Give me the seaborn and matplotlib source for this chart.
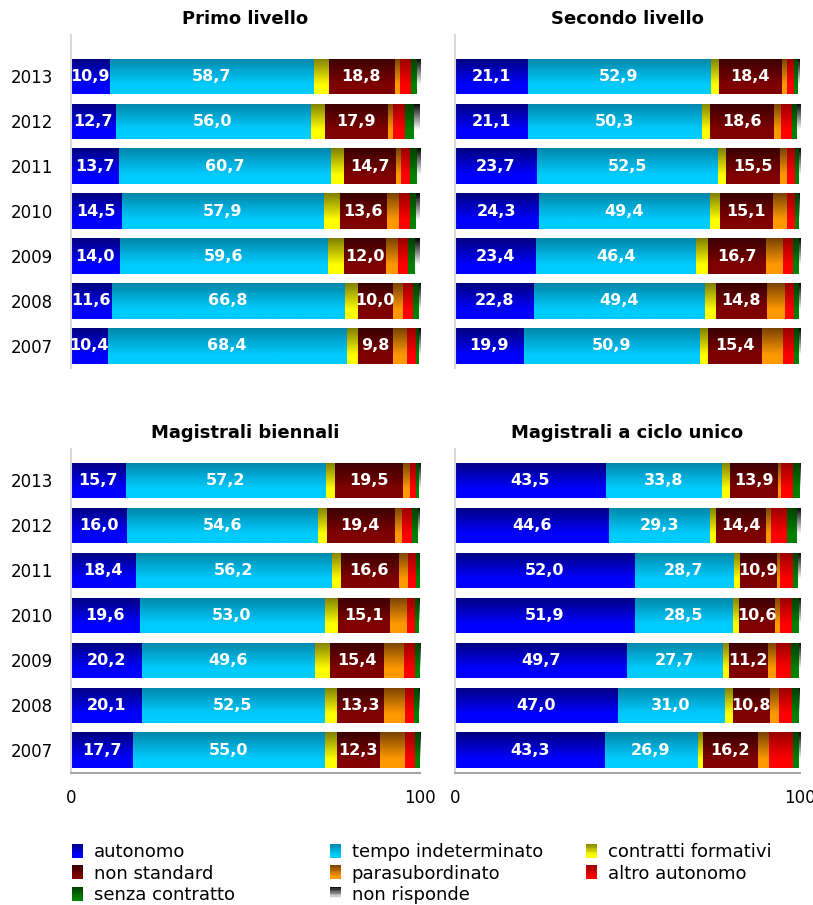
import numpy as np
import pandas as pd
import matplotlib
matplotlib.use("Agg")
import matplotlib.pyplot as plt
import seaborn as sns
from matplotlib.patches import Rectangle
from matplotlib.colors import to_rgb
from matplotlib.legend_handler import HandlerBase

# ---------------- data ----------------
years = ["2013", "2012", "2011", "2010", "2009", "2008", "2007"]
categories = ["autonomo", "tempo indeterminato", "contratti formativi", "non standard",
              "parasubordinato", "altro autonomo", "senza contratto", "non risponde"]
panel_titles = ["Primo livello", "Secondo livello",
                "Magistrali biennali", "Magistrali a ciclo unico"]
labelled = ["autonomo", "tempo indeterminato", "non standard"]

# Primo livello
p1_autonomo = [10.9, 12.7, 13.7, 14.5, 14.0, 11.6, 10.4]
p1_tempo = [58.7, 56.0, 60.7, 57.9, 59.6, 66.8, 68.4]
p1_formativi = [4.2, 4.0, 3.8, 4.5, 4.6, 3.7, 3.4]
p1_nonstandard = [18.8, 17.9, 14.7, 13.6, 12.0, 10.0, 9.8]
p1_parasub = [1.4, 1.6, 1.4, 3.3, 3.4, 2.9, 4.0]
p1_altro = [3.2, 3.5, 2.7, 3.1, 2.8, 2.9, 2.7]
p1_senza = [1.7, 2.3, 1.9, 1.8, 2.1, 1.6, 1.0]
p1_nonrisp = [1.1, 2.0, 1.1, 1.3, 1.5, 0.5, 0.3]

# Secondo livello
p2_autonomo = [21.1, 21.1, 23.7, 24.3, 23.4, 22.8, 19.9]
p2_tempo = [52.9, 50.3, 52.5, 49.4, 46.4, 49.4, 50.9]
p2_formativi = [2.3, 2.4, 2.3, 3.1, 3.5, 3.2, 2.5]
p2_nonstandard = [18.4, 18.6, 15.5, 15.1, 16.7, 14.8, 15.4]
p2_parasub = [1.3, 2.0, 2.0, 4.1, 4.9, 5.2, 6.3]
p2_altro = [2.2, 3.2, 2.4, 2.3, 2.9, 2.6, 3.2]
p2_senza = [1.1, 1.4, 1.1, 1.4, 1.7, 1.7, 1.5]
p2_nonrisp = [0.7, 1.0, 0.5, 0.3, 0.5, 0.3, 0.3]

# Magistrali biennali
p3_autonomo = [15.7, 16.0, 18.4, 19.6, 20.2, 20.1, 17.7]
p3_tempo = [57.2, 54.6, 56.2, 53.0, 49.6, 52.5, 55.0]
p3_formativi = [2.6, 2.6, 2.6, 3.7, 4.3, 3.6, 3.4]
p3_nonstandard = [19.5, 19.4, 16.6, 15.1, 15.4, 13.3, 12.3]
p3_parasub = [1.9, 2.2, 2.5, 4.6, 5.9, 6.0, 7.1]
p3_altro = [1.9, 2.8, 2.3, 2.3, 2.9, 2.7, 2.9]
p3_senza = [0.8, 1.6, 1.2, 1.4, 1.5, 1.5, 1.4]
p3_nonrisp = [0.4, 0.8, 0.2, 0.3, 0.2, 0.3, 0.2]

# Magistrali a ciclo unico
p4_autonomo = [43.5, 44.6, 52.0, 51.9, 49.7, 47.0, 43.3]
p4_tempo = [33.8, 29.3, 28.7, 28.5, 27.7, 31.0, 26.9]
p4_formativi = [2.3, 1.7, 1.7, 1.7, 2.0, 2.3, 1.4]
p4_nonstandard = [13.9, 14.4, 10.9, 10.6, 11.2, 10.8, 16.2]
p4_parasub = [0.9, 1.4, 0.9, 1.4, 2.3, 2.6, 3.2]
p4_altro = [3.5, 4.6, 3.5, 3.5, 4.3, 3.9, 6.7]
p4_senza = [1.9, 2.9, 1.7, 2.1, 2.4, 2.1, 2.0]
p4_nonrisp = [0.2, 1.1, 0.6, 0.3, 0.4, 0.3, 0.3]

panels = [
    [p1_autonomo, p1_tempo, p1_formativi, p1_nonstandard, p1_parasub, p1_altro, p1_senza, p1_nonrisp],
    [p2_autonomo, p2_tempo, p2_formativi, p2_nonstandard, p2_parasub, p2_altro, p2_senza, p2_nonrisp],
    [p3_autonomo, p3_tempo, p3_formativi, p3_nonstandard, p3_parasub, p3_altro, p3_senza, p3_nonrisp],
    [p4_autonomo, p4_tempo, p4_formativi, p4_nonstandard, p4_parasub, p4_altro, p4_senza, p4_nonrisp],
]

# gradient colours (top -> bottom)
grad_top = ["#000080", "#0086A8", "#808000", "#3A0000", "#7A4200", "#990000", "#003F00", "#000000"]
grad_bottom = ["#0000FF", "#00CCFF", "#FFFF00", "#800000", "#FF9900", "#FF0000", "#008000", "#FFFFFF"]

# ---------------- style ----------------
sns.set_style("white")
plt.rcParams["font.family"] = ["DejaVu Sans"]
plt.rcParams["text.color"] = "black"
plt.rcParams["xtick.labelcolor"] = "black"
plt.rcParams["ytick.labelcolor"] = "black"
plt.rcParams["axes.titlecolor"] = "black"


def gradient_array(top, bottom, n=64, frac=0.75):
    s = np.linspace(0, 1, n)
    t = np.clip(s / frac, 0, 1)
    a, b = np.array(to_rgb(top)), np.array(to_rgb(bottom))
    return (a[None, :] * (1 - t[:, None]) + b[None, :] * t[:, None])[:, None, :]


grads = [gradient_array(t, b) for t, b in zip(grad_top, grad_bottom)]

W, H = 813, 905
fig = plt.figure(figsize=(W / 100, H / 100), dpi=100)

ax_boxes = [
    (71, 35, 420, 368.3), (455, 35, 800, 368.3),
    (71, 449, 420, 772.7), (455, 449, 800, 772.7),
]
ylims = [(6.5, -0.92), (6.5, -0.92), (6.5, -0.70), (6.5, -0.70)]


def draw_panel(ax, values, title, show_x, show_y, ylim):
    df = pd.DataFrame(np.array(values).T, index=years, columns=categories)
    cum = df.cumsum(axis=1)
    layers = []
    for k in range(len(categories) - 1, -1, -1):
        n0 = len(ax.patches)
        d = pd.DataFrame({"year": years, "value": cum[categories[k]].values})
        sns.barplot(data=d, x="value", y="year", order=years, orient="h",
                    color=grad_bottom[k], saturation=1, width=0.79, linewidth=0,
                    errorbar=None, ax=ax)
        for p in ax.patches[n0:]:
            layers.append((p, k))
    for i, (p, k) in enumerate(layers):
        x0, y0, w, h = p.get_x(), p.get_y(), p.get_width(), p.get_height()
        im = ax.imshow(grads[k], extent=(x0, x0 + w, y0 + h, y0), aspect="auto",
                       interpolation="bilinear", zorder=2 + i * 0.001)
        im.set_clip_path(p)
    # value labels
    for k, cat in enumerate(categories):
        if cat not in labelled:
            continue
        prev = cum.iloc[:, k - 1].values if k > 0 else np.zeros(len(years))
        for j, v in enumerate(df[cat].values):
            ax.text(prev[j] + v / 2, j, f"{v:.1f}".replace(".", ","),
                    ha="center", va="center", color="white",
                    fontsize=11.5, fontweight="bold", zorder=10)
    ax.set_xlim(0, 100)
    ax.set_ylim(*ylim)
    ax.set_xlabel("")
    ax.set_ylabel("")
    ax.set_title(title, fontsize=13, fontweight="bold", pad=8, color="black")
    ax.tick_params(axis="y", length=0, pad=13, labelsize=12, labelcolor="black")
    if not show_y:
        ax.tick_params(axis="y", labelleft=False)
    for s in ["top", "right"]:
        ax.spines[s].set_visible(False)
    ax.spines["left"].set_color("#D9D9D9")
    ax.spines["left"].set_linewidth(1.5)
    if show_x:
        ax.spines["bottom"].set_color("#A6A6A6")
        ax.spines["bottom"].set_linewidth(1.5)
        ax.set_xticks([0, 100])
        ax.set_xticklabels(["0", "100"])
        ax.tick_params(axis="x", direction="in", length=4, width=1.5,
                       color="#A6A6A6", pad=12, labelsize=12, labelcolor="black")
    else:
        ax.spines["bottom"].set_visible(False)
        ax.set_xticks([])


for idx, (box, vals, title, yl) in enumerate(zip(ax_boxes, panels, panel_titles, ylims)):
    x0, y0, x1, y1 = box
    ax = fig.add_axes([x0 / W, 1 - y1 / H, (x1 - x0) / W, (y1 - y0) / H])
    draw_panel(ax, vals, title, idx >= 2, idx % 2 == 0, yl)


# ---------------- legend ----------------
class GradProxy(Rectangle):
    def __init__(self, top, bottom):
        super().__init__((0, 0), 1, 1)
        self.gtop = top
        self.gbottom = bottom


class GradHandler(HandlerBase):
    def create_artists(self, legend, orig_handle, xdescent, ydescent, width,
                       height, fontsize, trans):
        n = 10
        a, b = np.array(to_rgb(orig_handle.gtop)), np.array(to_rgb(orig_handle.gbottom))
        arts = []
        for j in range(n):
            t = min(1.0, (j + 0.5) / n / 0.8)
            c = a * (1 - t) + b * t
            r = Rectangle((-xdescent, -ydescent + height * (1 - (j + 1) / n)),
                          width, height / n, facecolor=c, edgecolor="none",
                          transform=trans)
            arts.append(r)
        return arts


proxies = {c: GradProxy(t, b) for c, t, b in zip(categories, grad_top, grad_bottom)}
columns = [
    (["autonomo", "non standard", "senza contratto"], 72),
    (["tempo indeterminato", "parasubordinato", "non risponde"], 330),
    (["contratti formativi", "altro autonomo"], 586),
]
for labs, xpix in columns:
    fig.legend([proxies[l] for l in labs], labs, loc="upper left",
               bbox_to_anchor=(xpix / W, 1 - 843 / H), frameon=False,
               borderpad=0, borderaxespad=0, handlelength=0.6, handleheight=0.8,
               handletextpad=0.6, labelspacing=0.2, fontsize=13, labelcolor="black",
               handler_map={GradProxy: GradHandler()})

fig.savefig("out.png", dpi=100)
